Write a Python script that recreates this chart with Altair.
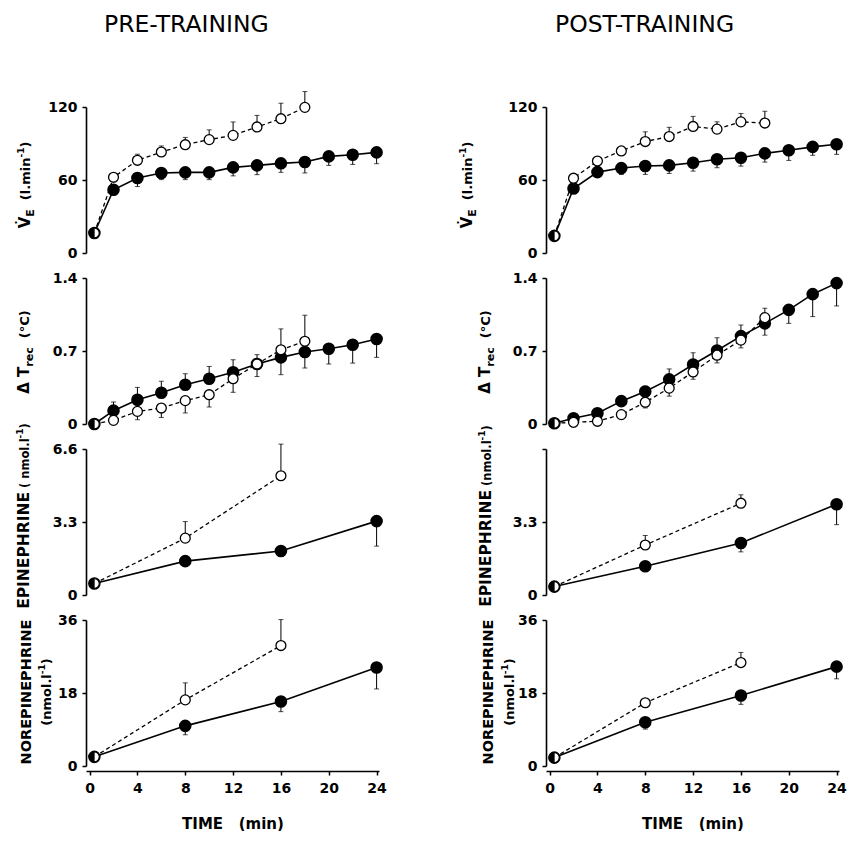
import altair as alt
import pandas as pd

FONT = "DejaVu Sans"

# ---------------- data ----------------
# time points (min)
T_FINE = [0.4, 2, 4, 6, 8, 10, 12, 14, 16, 18, 20, 22, 24]
T_FINE_OPEN = [0.4, 2, 4, 6, 8, 10, 12, 14, 16, 18]
T_COARSE = [0.4, 8, 16, 24]
T_COARSE_OPEN = [0.4, 8, 16]

# error values are signed: positive = bar drawn upward, negative = downward
# Ventilation VE (l/min)
VE_PRE_FILLED = [16.4, 52, 61.6, 65.8, 66.3, 66.3, 70.4, 72, 73.7, 74.8, 79.4, 80.8, 82.7]
VE_PRE_FILLED_ERR = [0, -2, -7, -5.5, -6, -6, -7, -7.6, -7.4, -9, -7.4, -8, -9.3]
VE_PRE_OPEN = [16.4, 62.2, 76.2, 83, 89, 93.2, 96.7, 103.6, 110.4, 119.7]
VE_PRE_OPEN_ERR = [0, 2, 5, 5, 6, 8, 11, 9.5, 12.7, 13]
VE_POST_FILLED = [14.1, 53, 66.5, 69.8, 71.5, 72, 74.2, 77, 78.3, 81.9, 84.4, 87.2, 89.4]
VE_POST_FILLED_ERR = [0, -2, -3, -5.3, -6.9, -6.6, -6.9, -6.9, -6.9, -7.2, -8.3, -6.9, -8.3]
VE_POST_OPEN = [14.1, 61.5, 75.6, 83.9, 91.6, 95.7, 104, 101.8, 107.8, 106.8]
VE_POST_OPEN_ERR = [0, 1, 2, 3, 8, 7.6, 8.3, 6, 6.9, 9.7]

# Rectal temperature change (deg C)
TR_PRE_FILLED = [0.0, 0.128, 0.233, 0.30, 0.377, 0.434, 0.496, 0.575, 0.639, 0.69, 0.722, 0.76, 0.815]
TR_PRE_FILLED_ERR = [0, 0.083, 0.118, 0.11, 0.105, 0.118, 0.12, -0.12, -0.166, -0.153, -0.147, -0.176, -0.176]
TR_PRE_OPEN = [0.0, 0.035, 0.121, 0.153, 0.224, 0.281, 0.434, 0.575, 0.712, 0.793]
TR_PRE_OPEN_ERR = [0, -0.03, -0.08, -0.09, -0.118, -0.118, -0.13, 0.09, 0.2, 0.25]
TR_POST_FILLED = [0.007, 0.055, 0.103, 0.219, 0.312, 0.428, 0.57, 0.705, 0.843, 0.965, 1.094, 1.245, 1.351]
TR_POST_FILLED_ERR = [0, 0, 0, 0.03, 0.05, 0.1, 0.113, 0.122, 0.106, -0.113, -0.129, -0.215, -0.219]
TR_POST_OPEN = [0.007, 0.016, 0.026, 0.09, 0.209, 0.344, 0.499, 0.66, 0.804, 1.02]
TR_POST_OPEN_ERR = [0, 0, 0, -0.03, -0.055, -0.077, -0.07, -0.074, -0.074, 0.09]

# Epinephrine (nmol/l)
EPI_PRE_FILLED = [0.52, 1.53, 1.99, 3.34]
EPI_PRE_FILLED_ERR = [0, 0, 0, -1.13]
EPI_PRE_OPEN = [0.52, 2.57, 5.39]
EPI_PRE_OPEN_ERR = [0, 0.75, 1.43]
EPI_POST_FILLED = [0.38, 1.3, 2.35, 4.1]
EPI_POST_FILLED_ERR = [0, -0.1, -0.4, -0.92]
EPI_POST_OPEN = [0.38, 2.26, 4.15]
EPI_POST_OPEN_ERR = [0, 0.43, 0.38]

# Norepinephrine (nmol/l)
NE_PRE_FILLED = [2.26, 9.9, 15.9, 24.3]
NE_PRE_FILLED_ERR = [0, -2.2, -2.5, -5.3]
NE_PRE_OPEN = [2.26, 16.3, 29.7]
NE_PRE_OPEN_ERR = [0, 4.2, 6.4]
NE_POST_FILLED = [2.07, 10.8, 17.4, 24.5]
NE_POST_FILLED_ERR = [0, -1.7, -2.2, -3.0]
NE_POST_OPEN = [2.07, 15.6, 25.5]
NE_POST_OPEN_ERR = [0, 0.5, 2.5]

COLUMN_TITLES = ["PRE-TRAINING", "POST-TRAINING"]
X_TICKS = [0, 4, 8, 12, 16, 20, 24]
X_TITLE = "TIME\u00a0\u00a0\u00a0(min)"

ROWS = [
    dict(domain=[0, 120], ticks=[0, 60, 120]),
    dict(domain=[0, 1.4], ticks=[0, 0.7, 1.4]),
    dict(domain=[0, 6.6], ticks=[0, 3.3, 6.6]),
    dict(domain=[0, 36], ticks=[0, 18, 36]),
]

SERIES = {
    (0, 0): (T_FINE, VE_PRE_FILLED, VE_PRE_FILLED_ERR, T_FINE_OPEN, VE_PRE_OPEN, VE_PRE_OPEN_ERR),
    (0, 1): (T_FINE, VE_POST_FILLED, VE_POST_FILLED_ERR, T_FINE_OPEN, VE_POST_OPEN, VE_POST_OPEN_ERR),
    (1, 0): (T_FINE, TR_PRE_FILLED, TR_PRE_FILLED_ERR, T_FINE_OPEN, TR_PRE_OPEN, TR_PRE_OPEN_ERR),
    (1, 1): (T_FINE, TR_POST_FILLED, TR_POST_FILLED_ERR, T_FINE_OPEN, TR_POST_OPEN, TR_POST_OPEN_ERR),
    (2, 0): (T_COARSE, EPI_PRE_FILLED, EPI_PRE_FILLED_ERR, T_COARSE_OPEN, EPI_PRE_OPEN, EPI_PRE_OPEN_ERR),
    (2, 1): (T_COARSE, EPI_POST_FILLED, EPI_POST_FILLED_ERR, T_COARSE_OPEN, EPI_POST_OPEN, EPI_POST_OPEN_ERR),
    (3, 0): (T_COARSE, NE_PRE_FILLED, NE_PRE_FILLED_ERR, T_COARSE_OPEN, NE_PRE_OPEN, NE_PRE_OPEN_ERR),
    (3, 1): (T_COARSE, NE_POST_FILLED, NE_POST_FILLED_ERR, T_COARSE_OPEN, NE_POST_OPEN, NE_POST_OPEN_ERR),
}

# y-axis titles: list of lines, each a list of (text, fontSize, baseline shift)
SUP = "-1"
TITLES = {
    0: [[("V\u0307", 15, 0), ("E", 11, 4), ("  (l.min", 13, 0), (SUP, 9, -6), (")", 13, 0)]],
    1: [[("\u0394", 15, 0), (" T", 15, 0), ("rec", 11, 4), ("  (\u00b0C)", 13, 0)]],
    2: [[("EPINEPHRINE", 15.5, 0), (" ( nmol.l", 11.5, 0), (SUP, 9, -6), (")", 11.5, 0)]],
    3: [[("NOREPINEPHRINE", 14.5, 0)], [("(nmol.l", 13, 0), (SUP, 9, -6), (")", 13, 0)]],
}
TITLES_POST = dict(TITLES)
TITLES_POST[2] = [[("EPINEPHRINE", 15.5, 0), (" (nmol.l", 11.5, 0), (SUP, 9, -6), (")", 11.5, 0)]]
TITLE_CY = {0: 78, 1: 74, 2: 67, 3: 72}
# baseline x offsets (px, left of y axis) for each title line, per column
TITLE_X = {
    (0, 0): [-56], (0, 1): [-74],
    (1, 0): [-57], (1, 1): [-56],
    (2, 0): [-57], (2, 1): [-55],
    (3, 0): [-55, -35], (3, 1): [-53, -32],
}

# DejaVu Sans Bold advance widths (per 1000 em)
WID = {" ": 348, "\u00a0": 348, "(": 457, ")": 457, ".": 380, "-": 415, "\u00b0": 500,
       "A": 774, "C": 734, "E": 683, "H": 837, "I": 372, "N": 837, "O": 850, "P": 733,
       "R": 770, "T": 682, "V": 774, "\u0394": 774, "a": 675, "c": 593, "e": 678,
       "i": 343, "l": 343, "m": 1042, "n": 712, "o": 687, "r": 493, "\u0307": 0}


def tw(s, size):
    return sum(WID.get(ch, 696) for ch in s) / 1000.0 * size


PW, PH = 293, 146
XSCALE = alt.Scale(domain=[-0.3, 24.2], nice=False, zero=False)


def y_axis(row, col):
    expr = "'' + datum.value"
    if row == 2 and col == 1:
        expr = "datum.value > 6 ? '' : '' + datum.value"
    return alt.Axis(values=ROWS[row]["ticks"], labelExpr=expr, labelFont=FONT,
                    labelFontSize=14, labelFontWeight="bold", labelColor="black",
                    tickColor="black", domainColor="black", tickSize=4, tickWidth=1.5,
                    domainWidth=1.6, labelPadding=5, grid=False, title=None,
                    labelFlush=False, labelOverlap=False)


def x_axis(row):
    if row != 3:
        return None
    return alt.Axis(values=X_TICKS, labelExpr="'' + datum.value", labelFont=FONT,
                    labelFontSize=14, labelFontWeight="bold", labelColor="black",
                    tickColor="black", domainColor="black", tickSize=4, tickWidth=1.5,
                    domainWidth=1.6, labelPadding=6, grid=False, offset=5, title=X_TITLE,
                    titleFont=FONT, titleFontSize=15, titleFontWeight="bold",
                    titleColor="black", titlePadding=21, labelFlush=False)


def panel(row, col):
    tf, vf, ef, to, vo, eo = SERIES[(row, col)]
    yscale = alt.Scale(domain=ROWS[row]["domain"], nice=False, zero=False)
    xa, ya = x_axis(row), y_axis(row, col)

    def X():
        return alt.X("t:Q", scale=XSCALE, axis=xa)

    def Y(f):
        return alt.Y(f, scale=yscale, axis=ya)

    dff = pd.DataFrame({"t": tf, "v": vf, "e": ef})
    dfo = pd.DataFrame({"t": to, "v": vo, "e": eo})
    layers = []
    for df in (dff, dfo):
        eb = df[df["e"] != 0].copy()
        eb["v2"] = eb["v"] + eb["e"]
        layers.append(alt.Chart(eb).mark_rule(color="black", strokeWidth=1)
                      .encode(x=X(), y=Y("v:Q"), y2="v2:Q"))
        layers.append(alt.Chart(eb).mark_tick(color="black", orient="horizontal",
                                              size=5, thickness=1)
                      .encode(x=X(), y=Y("v2:Q")))
    layers.append(alt.Chart(dff).mark_line(color="black", strokeWidth=1.6)
                  .encode(x=X(), y=Y("v:Q")))
    layers.append(alt.Chart(dfo).mark_line(color="black", strokeWidth=1.3,
                                           strokeDash=[4, 3])
                  .encode(x=X(), y=Y("v:Q")))
    layers.append(alt.Chart(dff).mark_point(shape="circle", filled=True, fill="black",
                                            stroke="black", size=112, opacity=1)
                  .encode(x=X(), y=Y("v:Q")))
    layers.append(alt.Chart(dfo).mark_point(shape="circle", fill="white", filled=True,
                                            stroke="black", strokeWidth=1.3, size=98,
                                            opacity=1)
                  .encode(x=X(), y=Y("v:Q")))
    # shared baseline point drawn half filled
    layers.append(alt.Chart(dff.iloc[:1]).mark_point(
        shape="M0,-1A1,1 0 0 0 0,1Z", filled=True, fill="black", stroke="black",
        strokeWidth=0.5, size=98, opacity=1).encode(x=X(), y=Y("v:Q")))

    # y-axis title pieces (rotated; dx runs along the text, dy shifts sub/superscripts)
    lines = (TITLES if col == 0 else TITLES_POST)[row]
    for li, line in enumerate(lines):
        total = sum(tw(s, fs) for s, fs, _ in line)
        pos = -total / 2.0
        bx = TITLE_X[(row, col)][li]
        for s, fs, shift in line:
            core = s.lstrip(" ")
            pos += tw(s[:len(s) - len(core)], fs)
            layers.append(alt.Chart(pd.DataFrame({"s": [core]})).mark_text(
                angle=270, align="left", baseline="alphabetic", font=FONT,
                fontWeight="bold", fontSize=fs, color="black", dx=pos, dy=shift)
                .encode(x=alt.value(bx), y=alt.value(TITLE_CY[row]), text="s:N"))
            pos += tw(core, fs)

    if row == 0:
        layers.append(alt.Chart(pd.DataFrame({"s": [COLUMN_TITLES[col]]})).mark_text(
            align="left", baseline="alphabetic", font=FONT, fontSize=23.5,
            color="black").encode(x=alt.value(18 if col == 0 else 9),
                                  y=alt.value(-75), text="s:N"))
    return alt.layer(*layers).properties(width=PW, height=PH)


cols = []
for c in range(2):
    cols.append(alt.vconcat(*[panel(r, c) for r in range(4)], spacing=25, bounds="flush"))

chart = (alt.hconcat(*cols, spacing=72)
         .properties(padding={"left": 8, "top": 5, "right": 0, "bottom": 0},
                     background="white")
         .configure_view(stroke=None))

chart.save("out.html", embed_options={"renderer": "svg", "actions": False})
